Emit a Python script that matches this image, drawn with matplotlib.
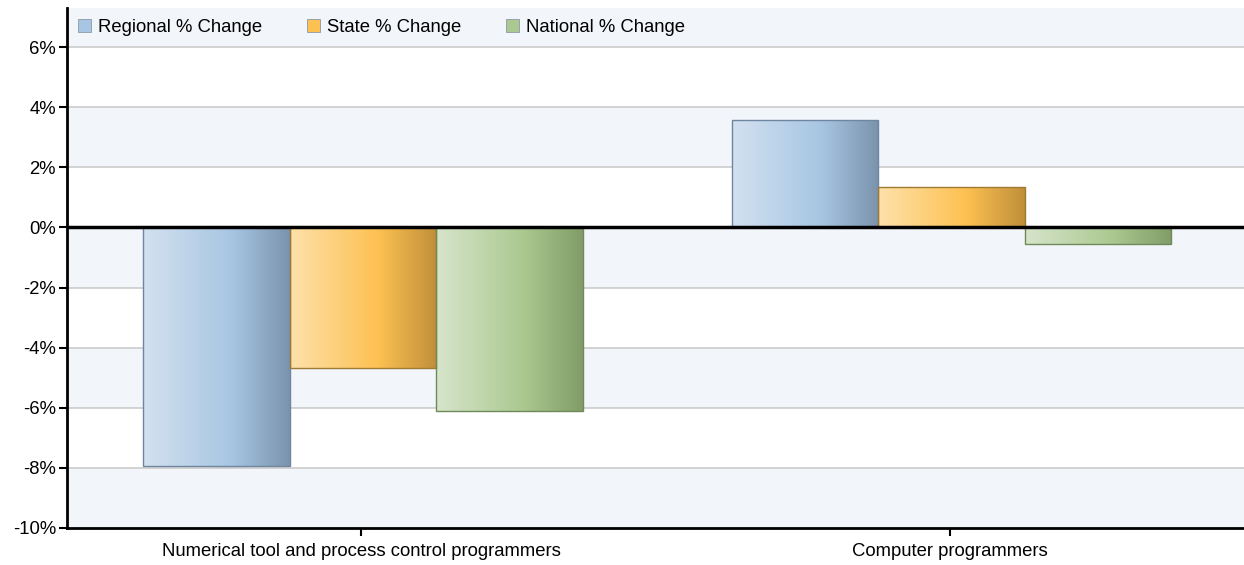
import matplotlib.pyplot as plt
import numpy as np
from matplotlib.colors import LinearSegmentedColormap
from matplotlib.patches import Patch

plt.rcParams["font.family"] = ["Liberation Sans", "DejaVu Sans"]

categories = ["Numerical tool and process control programmers", "Computer programmers"]
series = ["Regional % Change", "State % Change", "National % Change"]
regional = [-7.95, 3.57]
state = [-4.67, 1.35]
national = [-6.1, -0.55]

# left / middle / right of the horizontal gradient, plus outline
palettes = [
    ("#d3e1f0", "#a8c6e3", "#7b93ad", "#6f86a0"),
    ("#fee1ab", "#fdc152", "#c08f3a", "#a07a30"),
    ("#d7e5cb", "#abc890", "#819c68", "#6d8a58"),
]
legend_colors = ["#a8c6e3", "#fdc152", "#abc890"]

fig = plt.figure(figsize=(12.44, 5.65), dpi=100)
ax = fig.add_axes([67 / 1244, 1 - 528 / 565, 1177 / 1244, 520 / 565])

ymin, ymax = -10, 7.3

# alternating background bands
band_edges = [-10, -8, -6, -4, -2, 0, 2, 4, 6, ymax]
for i in range(len(band_edges) - 1):
    fc = "#f2f5fa" if i % 2 == 0 else "white"
    ax.axhspan(band_edges[i], band_edges[i + 1], color=fc, zorder=0, lw=0)
for y in range(-8, 7, 2):
    ax.axhline(y, color="#cccccc", lw=1.2, zorder=1)

x = np.arange(len(categories))
width = 0.249
grad = np.linspace(0, 1, 256).reshape(1, -1)
for k, vals in enumerate([regional, state, national]):
    c0, c1, c2, edge = palettes[k]
    cmap = LinearSegmentedColormap.from_list(f"g{k}", [(0, c0), (0.6, c1), (1, c2)])
    bars = ax.bar(x + 0.003 + (k - 1) * width, vals, width, facecolor="none",
                  edgecolor=edge, lw=1.0, zorder=3)
    for b in bars:
        x0, y0 = b.get_x(), b.get_y()
        w, h = b.get_width(), b.get_height()
        im = ax.imshow(grad, cmap=cmap, aspect="auto", zorder=2,
                       extent=[x0, x0 + w, y0, y0 + h], origin="lower")
        im.set_clip_path(b)

ax.set_xlim(-0.5, 1.5)
ax.set_ylim(ymin, ymax)
ax.axhline(0, color="black", lw=2.5, zorder=4)

ax.set_yticks(range(-10, 7, 2))
ax.set_yticklabels([f"{v}%" for v in range(-10, 7, 2)])
ax.set_xticks(x)
ax.set_xticklabels(categories)
ax.tick_params(axis="both", labelsize=13.3, length=6, width=1.5, color="black")
ax.tick_params(axis="x", pad=5)
ax.tick_params(axis="y", pad=2)

for s in ["top", "right"]:
    ax.spines[s].set_visible(False)
for s in ["left", "bottom"]:
    ax.spines[s].set_linewidth(2)

handles = [Patch(facecolor=c, edgecolor="#8899aa", lw=0.6) for c in legend_colors]
ax.legend(handles, series, loc="upper left", ncol=3, frameon=False,
          fontsize=13.3, handlelength=0.7, handleheight=0.7, handletextpad=0.4,
          columnspacing=2.4, borderaxespad=0.2, bbox_to_anchor=(0.0, 1.0))

fig.savefig("out.png", dpi=100)
